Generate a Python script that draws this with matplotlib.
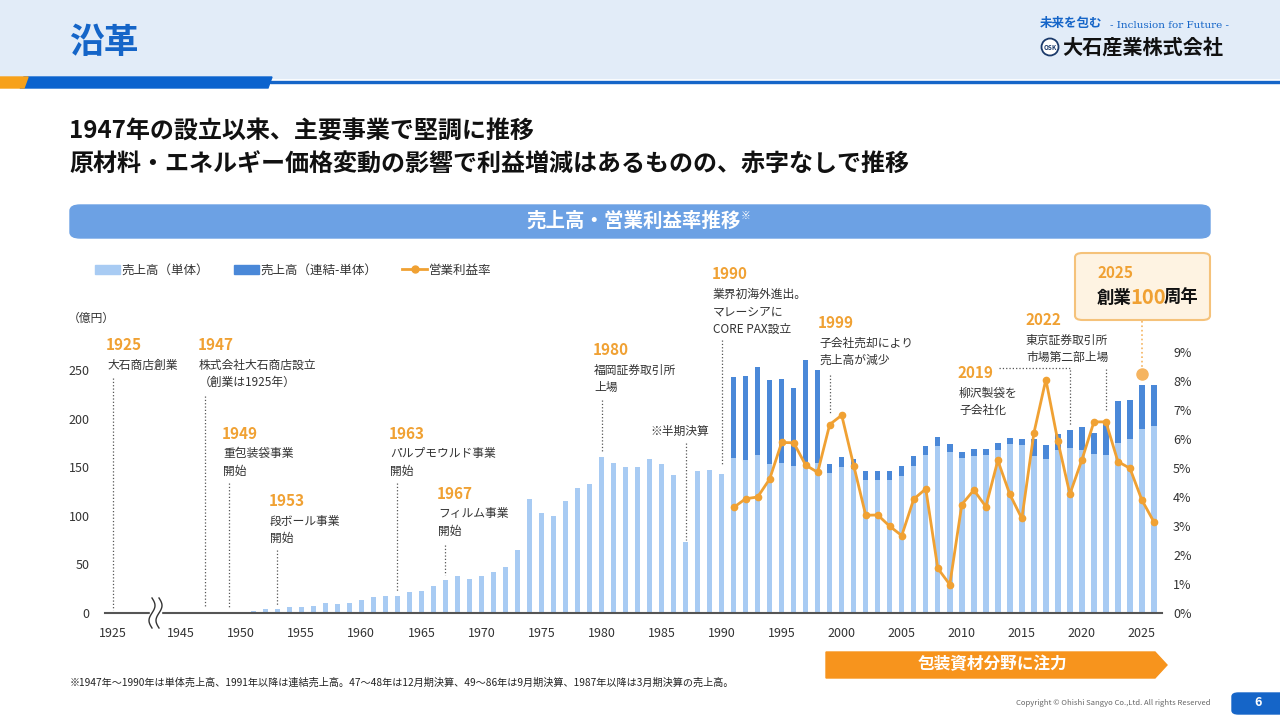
import numpy as np
import matplotlib
matplotlib.use('Agg')
import matplotlib.pyplot as plt
from matplotlib.patches import Rectangle, FancyBboxPatch, Polygon, Patch, Ellipse
from matplotlib.lines import Line2D

plt.rcParams['font.family'] = ['Noto Sans CJK JP', 'DejaVu Sans']

# ---- data ----
years_single = list(range(1950, 2027))
sales_single = [1.2, 2.4, 3.8, 4.5, 5.8, 5.8, 7.5, 10, 9.3, 10,
                13, 16.5, 17, 18, 22, 22.3, 27.5, 34, 38.5, 35.3,
                38.4, 42, 47.7, 65, 117, 103, 100, 115, 128.6, 132.7,
                161, 154.6, 150, 150, 158, 153, 142, 73, 146.4, 146.8,
                143, 159.5, 157.7, 163, 153, 154.3, 151.6, 150, 154.3, 144,
                150.5, 148.5, 137.2, 137.2, 136.5, 141.3, 151.6, 163, 172, 166,
                159.1, 161.2, 162.6, 167.7, 173.9, 172.8, 161.2, 158.4, 167.7, 169.8,
                167.4, 163.6, 162.6, 175.2, 179.4, 189, 192]
years_consol = list(range(1991, 2027))
sales_consol_diff = [83, 86.3, 90, 87, 86.4, 80, 110.6, 95.7, 9, 10.3,
                     9.9, 8.8, 8.8, 9.5, 10.3, 10.3, 9, 9, 7.5, 6.9,
                     7.8, 6.1, 6.9, 6.5, 6.2, 18.2, 14.1, 16.1, 18.2, 24,
                     21.6, 33.4, 42.8, 40.1, 45.6, 42.6]
op_margin = [3.64, 3.94, 4.0, 4.62, 5.88, 5.87, 5.1, 4.85, 6.5, 6.82,
             5.08, 3.37, 3.38, 2.99, 2.67, 3.93, 4.28, 1.54, 0.98, 3.74,
             4.24, 3.67, 5.26, 4.09, 3.26, 6.2, 8.05, 5.92, 4.1, 5.28,
             6.59, 6.59, 5.22, 4.99, 3.89, 3.14]
xticks = [1925, 1945, 1950, 1955, 1960, 1965, 1970, 1975, 1980, 1985,
          1990, 1995, 2000, 2005, 2010, 2015, 2020, 2025]
yticks_left = [0, 50, 100, 150, 200, 250]
yticks_right = list(range(0, 10))

# milestones: year, description lines, (x, y) of text in px, line (y_from, y_to) in 億円 units
milestones = [
    ('1925', ['大石商店創業'], (106, 345), 1925, (242, 3)),
    ('1947', ['株式会社大石商店設立', '（創業は1925年）'], (198, 345), 1947, (223, 6)),
    ('1949', ['重包装袋事業', '開始'], (222, 434), 1949, (134, 6)),
    ('1953', ['段ボール事業', '開始'], (269, 501), 1953, (65, 8)),
    ('1963', ['パルプモウルド事業', '開始'], (389, 434), 1963, (134, 22)),
    ('1967', ['フィルム事業', '開始'], (437, 494), 1967, (70, 39)),
    ('1980', ['福岡証券取引所', '上場'], (593, 350), 1980, (219, 166)),
    ('1990', ['業界初海外進出。', 'マレーシアに', 'CORE PAX設立'], (712, 274), 1990, (281, 152)),
    ('1999', ['子会社売却により', '売上高が減少'], (818, 323), 1999, (245, 206)),
    ('2019', ['柳沢製袋を', '子会社化'], (958, 373), 2019, (252, 192)),
    ('2022', ['東京証券取引所', '市場第二部上場'], (1025, 320), 2022, (251, 207)),
]

C_LIGHT = '#A8CBF3'
C_DARK = '#4A88D8'
C_ORANGE = '#F0A133'
C_TEXT = '#333333'
C_BLUE = '#1565C8'

W, H = 1280, 720
fig = plt.figure(figsize=(12.8, 7.2), dpi=100)


def fx(x):
    return x / W


def fy(y):
    return 1 - y / H


# ---- header ----
fig.patches.append(Rectangle((0, fy(78)), 1, 78 / H, transform=fig.transFigure,
                             color='#E2ECF8', zorder=0))
fig.patches.append(Rectangle((fx(270), fy(83)), 1, 2 / H, transform=fig.transFigure,
                             color=C_BLUE, zorder=1))
fig.patches.append(Polygon([(fx(24), fy(77)), (fx(272), fy(77)), (fx(268), fy(88)),
                            (fx(20), fy(88))], closed=True, transform=fig.transFigure,
                           color='#0B63CE', zorder=2))
fig.patches.append(Polygon([(0, fy(77)), (fx(28), fy(77)), (fx(24), fy(88)),
                            (0, fy(88))], closed=True, transform=fig.transFigure,
                           color='#F7A11A', zorder=2))
fig.text(fx(69), fy(43), '沿革', fontsize=25, fontweight='bold', color=C_BLUE,
         va='center', ha='left')
fig.text(fx(1040), fy(24), '未来を包む', fontsize=9, fontweight='bold', color=C_BLUE,
         va='center', ha='left')
fig.text(fx(1110), fy(25), '- Inclusion for Future -', fontsize=7.5, family='DejaVu Serif',
         color=C_BLUE, va='center', ha='left')
fig.patches.append(Ellipse((fx(1050), fy(47)), 17 / W, 17 / H, transform=fig.transFigure,
                           facecolor='white', edgecolor='#1B3A6B', lw=1.3, zorder=3))
fig.text(fx(1050), fy(47), 'OSK', fontsize=4.5, color='#1B3A6B', ha='center', va='center',
         fontweight='bold', zorder=4)
fig.text(fx(1062), fy(47), '大石産業株式会社', fontsize=14.5, fontweight='bold', color='#111111',
         va='center', ha='left')

# ---- subtitle ----
fig.text(fx(69), fy(131), '1947年の設立以来、主要事業で堅調に推移', fontsize=17.3,
         fontweight='bold', color='#111111', va='center')
fig.text(fx(69), fy(165), '原材料・エネルギー価格変動の影響で利益増減はあるものの、赤字なしで推移',
         fontsize=17.3, fontweight='bold', color='#111111', va='center')

# ---- chart banner ----
fig.patches.append(FancyBboxPatch((fx(70), fy(238)), fx(1140), 33 / H,
                                  boxstyle='round,pad=0,rounding_size=0.008',
                                  transform=fig.transFigure, color='#6CA1E4', zorder=1))
fig.text(fx(741), fy(221), '売上高・営業利益率推移', fontsize=14, fontweight='bold',
         color='white', va='center', ha='right')
fig.text(fx(741), fy(216), '※', fontsize=7, fontweight='bold', color='white',
         va='center', ha='left')

# ---- main axes ----
k = (68 / 12) / 20


def fwd(x):
    x = np.asarray(x, dtype=float)
    return np.where(x >= 1945, x, 1945 - (1945 - x) * k)


def inv(y):
    y = np.asarray(y, dtype=float)
    return np.where(y >= 1945, y, 1945 - (1945 - y) / k)


ax = fig.add_axes([fx(105), fy(613), fx(1057), 270 / H])
ax.set_xscale('function', functions=(fwd, inv))
ax.set_xlim(1922.6, 2026.67)
ax.set_ylim(0, 270 / 0.972)

ax.bar(years_single, sales_single, width=0.45, color=C_LIGHT, zorder=2)
single_consol = sales_single[years_single.index(1991):]
ax.bar(years_consol, sales_consol_diff, bottom=single_consol, width=0.45,
       color=C_DARK, zorder=2)

ax2 = ax.twinx()
ax2.set_ylim(0, 270 / 29)
ax2.plot(years_consol, op_margin, color=C_ORANGE, lw=2, marker='o', ms=4.5, zorder=5)

for a in (ax, ax2):
    for s in ('top', 'left', 'right'):
        a.spines[s].set_visible(False)
ax2.spines['bottom'].set_visible(False)
ax.spines['bottom'].set_color('#555555')
ax.spines['bottom'].set_linewidth(1.5)
ax.set_xticks(xticks)
ax.set_xticklabels([str(t) for t in xticks])
ax.set_yticks(yticks_left)
ax2.set_yticks(yticks_right)
ax2.set_yticklabels([f'{t}%' for t in yticks_right])
ax.tick_params(axis='x', length=0, pad=10, labelsize=9, labelcolor=C_TEXT)
ax.tick_params(axis='y', length=0, pad=11, labelsize=9, labelcolor=C_TEXT)
ax2.tick_params(axis='y', length=0, pad=8, labelsize=9, labelcolor=C_TEXT)
ax.set_zorder(ax2.get_zorder() - 1)
ax.patch.set_visible(False)

fig.text(fx(68), fy(318), '（億円）', fontsize=8.5, color=C_TEXT, va='center', ha='left')

# axis break mark
fig.patches.append(Rectangle((fx(150), fy(616)), fx(11), 6 / H, transform=fig.transFigure,
                             color='white', zorder=10))
tt = np.linspace(0, 1, 40)
for x0 in (152, 159):
    xs = x0 + 3 * np.sin(tt * 2 * np.pi)
    ys = 598 + 30 * tt
    fig.add_artist(Line2D(fx(xs), fy(ys), color='#333333', lw=1, zorder=11))

# ---- milestones ----
for yr, lines, (tx, ty), xyear, (y0, y1) in milestones:
    fig.text(fx(tx), fy(ty), yr, fontsize=11, fontweight='bold', color=C_ORANGE,
             va='center', ha='left')
    for i, ln in enumerate(lines):
        fig.text(fx(tx + 1), fy(ty + 20 + 17.5 * i), ln, fontsize=8.5, color=C_TEXT,
                 va='center', ha='left')
    if yr == '2019':
        ax.plot([2013.1, xyear, xyear], [y0, y0, y1], ls=':', color='#555555', lw=0.9,
                clip_on=False, zorder=6)
    else:
        ax.plot([xyear, xyear], [y0, y1], ls=':', color='#555555', lw=0.9,
                clip_on=False, zorder=6)

fig.text(fx(650), fy(431), '※半期決算', fontsize=8.5, color=C_TEXT, va='center', ha='left')
ax.plot([1987, 1987], [175, 75], ls=':', color='#555555', lw=0.9, clip_on=False, zorder=6)

# 2025 anniversary box
fig.patches.append(FancyBboxPatch((fx(1075), fy(320)), fx(135), 67 / H,
                                  boxstyle='round,pad=0,rounding_size=0.006',
                                  transform=fig.transFigure, facecolor='#FEF3E2',
                                  edgecolor='#F5C27A', lw=1.5, zorder=1))
fig.text(fx(1097), fy(273), '2025', fontsize=11, fontweight='bold', color=C_ORANGE,
         va='center', ha='left')
fig.text(fx(1097), fy(298), '創業', fontsize=12.5, fontweight='bold', color='#111111',
         va='center', ha='left')
fig.text(fx(1130), fy(297), '100', fontsize=14.5, fontweight='bold', color=C_ORANGE,
         va='center', ha='left')
fig.text(fx(1164), fy(298), '周年', fontsize=12.5, fontweight='bold', color='#111111',
         va='center', ha='left')
ax.plot([2025, 2025], [300, 250], ls=':', color='#F5B460', lw=1.2, clip_on=False, zorder=6)
ax.plot([2025], [246], marker='o', ms=8, color='#F5B460', clip_on=False, zorder=7)

# legend
handles = [Patch(color=C_LIGHT), Patch(color=C_DARK),
           Line2D([], [], color=C_ORANGE, lw=2, marker='o', ms=5)]
labels = ['売上高（単体）', '売上高（連結-単体）', '営業利益率']
fig.legend(handles, labels, loc='center left', bbox_to_anchor=(fx(84), fy(270)), ncol=3,
           frameon=False, fontsize=9, handlelength=2.0, handletextpad=0.1,
           columnspacing=2.0, labelcolor=C_TEXT)

# ---- bottom ----
fig.patches.append(Polygon([(fx(826), fy(652)), (fx(1155), fy(652)), (fx(1167), fy(665)),
                            (fx(1155), fy(678)), (fx(826), fy(678))], closed=True,
                           transform=fig.transFigure, color='#F7941D', zorder=1))
fig.text(fx(993), fy(664), '包装資材分野に注力', fontsize=12, fontweight='bold', color='white',
         va='center', ha='center')
fig.text(fx(70), fy(683),
         '※1947年～1990年は単体売上高、1991年以降は連結売上高。47～48年は12月期決算、'
         '49～86年は9月期決算、1987年以降は3月期決算の売上高。',
         fontsize=7.3, color='#222222', va='center', ha='left')
fig.text(fx(1210), fy(703), 'Copyright © Ohishi Sangyo Co.,Ltd. All rights Reserved',
         fontsize=5.5, color='#666666', va='center', ha='right')
fig.patches.append(FancyBboxPatch((fx(1232), fy(714)), fx(60), 21 / H,
                                  boxstyle='round,pad=0,rounding_size=0.005',
                                  transform=fig.transFigure, color=C_BLUE, zorder=1))
fig.text(fx(1258), fy(703), '6', fontsize=9, fontweight='bold', color='white',
         va='center', ha='center')

fig.savefig('out.png', dpi=100)
